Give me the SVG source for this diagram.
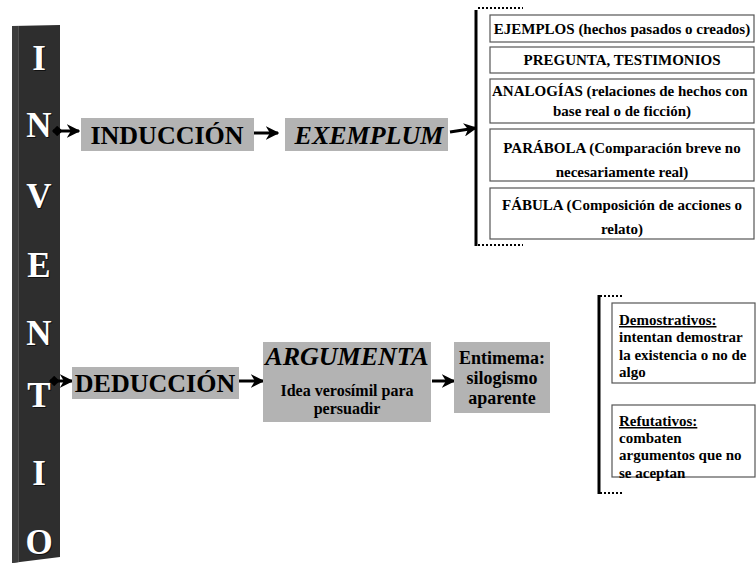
<svg xmlns="http://www.w3.org/2000/svg" width="756" height="566" viewBox="0 0 756 566" font-family="'Liberation Serif', 'Times New Roman', serif" font-weight="bold">
<defs>
<style>
text{fill:#000}
.pl{font-size:35px;fill:#fff;text-anchor:middle}
.ps{font-size:35px;fill:#111;text-anchor:middle}
.gbox{fill:#b3b3b3}
.wbox{fill:#fff;stroke:#555;stroke-width:1.2}
.big{font-size:26px;text-anchor:middle}
.mid{font-size:15px;text-anchor:middle}
.sm{font-size:15px}
.ent{font-size:18px;text-anchor:middle}
.arg{font-size:16px;text-anchor:middle}
.arr{stroke:#000;stroke-width:3;fill:none;marker-end:url(#ah)}
.br{stroke:#000;stroke-width:3;fill:none}
.dot{stroke:#000;stroke-width:2;stroke-dasharray:2 2;fill:none}
</style>
<marker id="ah" viewBox="0 0 10 10" refX="9" refY="5" markerWidth="4.5" markerHeight="4.5" orient="auto" markerUnits="strokeWidth">
<path d="M0,0 L10,5 L0,10 L3,5 Z" fill="#000"/>
</marker>
<marker id="dm" viewBox="0 0 10 10" refX="1" refY="5" markerWidth="3.5" markerHeight="3.5" orient="auto" markerUnits="strokeWidth">
<path d="M0,5 L5,0 L10,5 L5,10 Z" fill="#000"/>
</marker>
</defs>

<g id="pillar">
<polygon points="12,26 60,25 60,557 12,563" fill="#2e2e2e"/>
<polygon points="12,26 19,26 19,562 12,563" fill="#3c3c3c"/>
<line x1="18.5" y1="26" x2="18.5" y2="562" stroke="#555" stroke-width="0.8"/>
<text class="ps" x="40" y="71">I</text><text class="pl" x="39" y="70">I</text>
<text class="ps" x="40" y="138">N</text><text class="pl" x="39" y="137">N</text>
<text class="ps" x="40" y="209">V</text><text class="pl" x="39" y="208">V</text>
<text class="ps" x="40" y="278">E</text><text class="pl" x="39" y="277">E</text>
<text class="ps" x="40" y="346">N</text><text class="pl" x="39" y="345">N</text>
<text class="ps" x="40" y="408">T</text><text class="pl" x="39" y="407">T</text>
<text class="ps" x="40" y="486">I</text><text class="pl" x="39" y="485">I</text>
<text class="ps" x="40" y="555">O</text><text class="pl" x="39" y="554">O</text>
</g>

<g id="connectors">
<line x1="53" y1="131" x2="79" y2="131" stroke="#000" stroke-width="3" marker-start="url(#dm)" marker-end="url(#ah)"/>
<line class="arr" x1="254" y1="133" x2="278" y2="133"/>
<line class="arr" x1="450" y1="132" x2="476" y2="128"/>
<line x1="50" y1="381" x2="72" y2="381" stroke="#000" stroke-width="3" marker-start="url(#dm)" marker-end="url(#ah)"/>
<line class="arr" x1="239" y1="381" x2="263" y2="381"/>
<line class="arr" x1="432" y1="381" x2="454" y2="381"/>
<path class="br" d="M476,10 V246"/>
<path class="dot" d="M478,8 H523"/>
<path class="dot" d="M478,245 H523"/>
<path class="br" d="M599,295 V494"/>
<path class="dot" d="M600,296 H624"/>
<path class="dot" d="M600,493 H624"/>
</g>

<g id="induccion">
<rect class="gbox" x="81" y="118" width="173" height="33"/>
<text class="big" x="167" y="144">INDUCCIÓN</text>
</g>
<g id="exemplum">
<rect class="gbox" x="285" y="118" width="163" height="33"/>
<text class="big" x="369" y="144" font-style="italic">EXEMPLUM</text>
</g>

<g id="ejemplos">
<rect class="wbox" x="490" y="15" width="264" height="27"/>
<text class="mid" x="622" y="34">EJEMPLOS (hechos pasados o creados)</text>
</g>
<g id="pregunta">
<rect class="wbox" x="490" y="47" width="264" height="26"/>
<text class="mid" x="622" y="65">PREGUNTA, TESTIMONIOS</text>
</g>
<g id="analogias">
<rect class="wbox" x="490" y="79" width="264" height="44"/>
<text class="sm" x="492" y="96">ANALOGÍAS (relaciones de hechos con</text>
<text class="mid" x="622" y="116">base real o de ficción)</text>
</g>
<g id="parabola">
<rect class="wbox" x="490" y="129" width="264" height="52"/>
<text class="mid" x="622" y="153">PARÁBOLA (Comparación breve no</text>
<text class="mid" x="622" y="177">necesariamente real)</text>
</g>
<g id="fabula">
<rect class="wbox" x="490" y="188" width="264" height="51"/>
<text class="mid" x="622" y="210">FÁBULA (Composición de acciones o</text>
<text class="mid" x="622" y="234">relato)</text>
</g>

<g id="deduccion">
<rect class="gbox" x="72" y="367" width="167" height="32"/>
<text class="big" x="155" y="392">DEDUCCIÓN</text>
</g>
<g id="argumenta">
<rect class="gbox" x="263" y="342" width="168" height="80"/>
<text class="big" x="347" y="365" font-style="italic">ARGUMENTA</text>
<text class="arg" x="347" y="396">Idea verosímil para</text>
<text class="arg" x="347" y="414">persuadir</text>
</g>
<g id="entimema">
<rect class="gbox" x="454" y="342" width="96" height="71"/>
<text class="ent" x="502" y="364">Entimema:</text>
<text class="ent" x="502" y="384">silogismo</text>
<text class="ent" x="502" y="404">aparente</text>
</g>

<g id="demostrativos">
<rect class="wbox" x="612" y="303" width="143" height="80"/>
<text class="sm" x="619" y="325" text-decoration="underline">Demostrativos:</text>
<text class="sm" x="619" y="342">intentan demostrar</text>
<text class="sm" x="619" y="360">la existencia o no de</text>
<text class="sm" x="619" y="377">algo</text>
</g>
<g id="refutativos">
<rect class="wbox" x="612" y="405" width="143" height="72"/>
<text class="sm" x="619" y="426" text-decoration="underline">Refutativos:</text>
<text class="sm" x="619" y="443">combaten</text>
<text class="sm" x="619" y="460">argumentos que no</text>
<text class="sm" x="619" y="478">se aceptan</text>
</g>
</svg>
